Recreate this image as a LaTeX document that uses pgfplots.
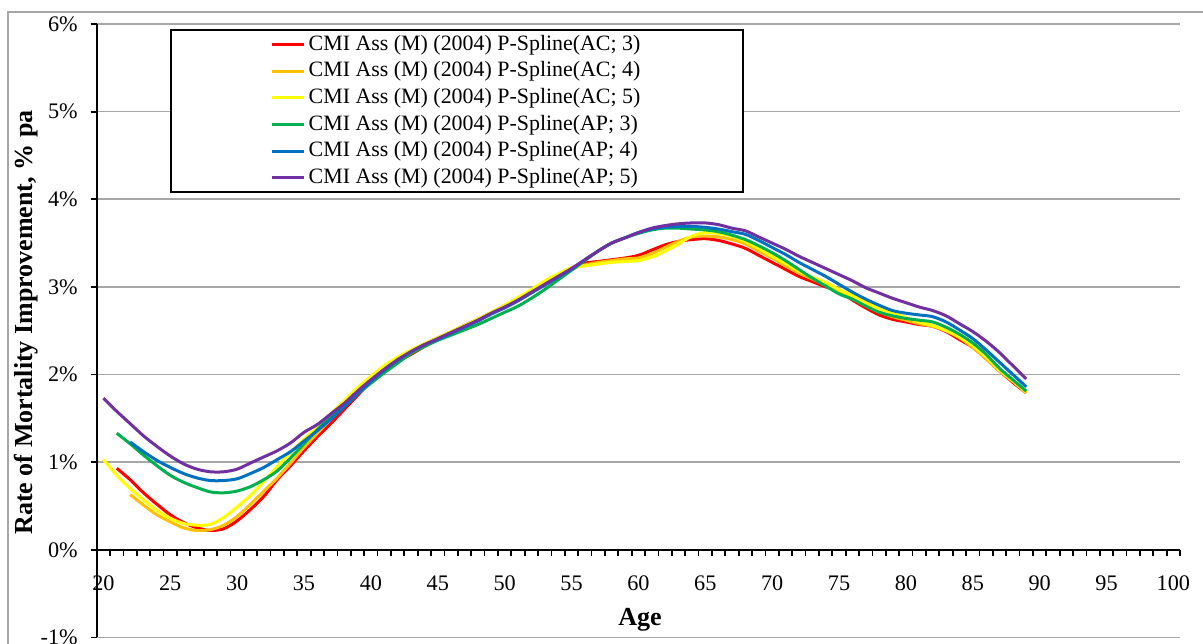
\documentclass[border=0pt]{standalone}
\usepackage{fontspec}
\setmainfont{Liberation Serif}
\usepackage{pgfplots}
\pgfplotsset{compat=1.18}
\definecolor{xlred}{RGB}{255,0,0}
\definecolor{xlorange}{RGB}{255,192,0}
\definecolor{xlyellow}{RGB}{255,255,0}
\definecolor{xlgreen}{RGB}{0,176,80}
\definecolor{xlblue}{RGB}{0,112,192}
\definecolor{xlpurple}{RGB}{112,48,160}
\definecolor{gridgrey}{RGB}{166,166,166}

\begin{document}
\begin{tikzpicture}[font=\fontsize{10pt}{12pt}\selectfont]
% picture is cut off at the bottom like the reference
\clip (-43.5pt,-2.57pt) rectangle (497.8pt,286.8pt);
\draw[gridgrey, line width=0.6pt] (-39.9pt,-20pt) -- (-39.9pt,281.4pt) -- (530pt,281.4pt);
\begin{axis}[
  scale only axis, width=487.5pt, height=276pt,
  xmin=19.5, xmax=100.5, ymin=-1, ymax=6,
  axis y line=left, axis x line=middle,
  axis line style={-, black, line width=1pt},
  every axis x label/.style={at={(0.5015,0.0282)}, anchor=center},
  every axis y label/.style={at={(-0.0653,0.5133)}, rotate=90, anchor=center},
  label style={font=\fontsize{11.7pt}{14pt}\selectfont\bfseries},
  xlabel={Age},
  ylabel={Rate of Mortality Improvement, \% pa},
  xtick={20,25,...,100},
  xticklabel={\pgfmathparse{int(round(\tick))}\pgfmathresult},
  xticklabel style={yshift=-5.4pt},
  major x tick style={draw=none},
  minor xtick={19.5,20.5,...,100.5},
  minor x tick style={black, line width=0.8pt},
  minor tick length=2.7pt,
  xtick align=outside,
  ytick={-1,0,...,6},
  yticklabel={\pgfmathparse{int(round(\tick))}\pgfmathresult\%},
  yticklabel style={xshift=-2.3pt},
  ytick align=outside, major tick length=2.7pt,
  y tick style={black, line width=0.8pt},
  ymajorgrids, grid style={gridgrey, line width=0.7pt},
  legend style={at={(0.0677,0.9918)}, anchor=north west, draw=black,
    line width=0.9pt, inner xsep=44.7pt, inner ysep=0.5pt, row sep=0pt,
    font=\fontsize{9.86pt}{12pt}\selectfont,
    nodes={text height=7.5pt, text depth=2.5pt, inner ysep=1pt, inner xsep=1.5pt}},
  legend cell align=left,
  legend image code/.code={\draw[#1, line width=1.35pt] (0pt,0pt) -- (14.4pt,0pt);},
  every axis plot/.append style={line width=1.35pt, smooth},
]
\addplot[xlred] coordinates {
(21,0.93) (22,0.80) (23,0.65) (24,0.52) (25,0.40) (26,0.31) (27,0.25) (28,0.22) (29,0.24) (30,0.33)
(31,0.46) (32,0.61) (33,0.80) (34,0.96) (35,1.13) (36,1.29) (37,1.44) (38,1.60) (39,1.76) (40,1.92)
(41,2.05) (42,2.15) (43,2.23) (44,2.32) (45,2.40) (46,2.48) (47,2.56) (48,2.63) (49,2.70) (50,2.78)
(51,2.86) (52,2.95) (53,3.04) (54,3.12) (55,3.20) (56,3.27) (57,3.29) (58,3.31) (59,3.33) (60,3.36)
(61,3.42) (62,3.48) (63,3.52) (64,3.54) (65,3.55) (66,3.53) (67,3.49) (68,3.44) (69,3.36) (70,3.28)
(71,3.20) (72,3.12) (73,3.06) (74,3.00) (75,2.95) (76,2.85) (77,2.76) (78,2.68) (79,2.63) (80,2.60)
(81,2.57) (82,2.55) (83,2.49) (84,2.40) (85,2.31) (86,2.18) (87,2.04) (88,1.91) (89,1.79)};
\addlegendentry{CMI Ass (M) (2004) P-Spline(AC; 3)}
\addplot[xlorange] coordinates {
(22,0.63) (23,0.51) (24,0.40) (25,0.32) (26,0.25) (27,0.22) (28,0.23) (29,0.28) (30,0.38)
(31,0.52) (32,0.67) (33,0.82) (34,0.99) (35,1.17) (36,1.33) (37,1.50) (38,1.66) (39,1.82) (40,1.96)
(41,2.08) (42,2.18) (43,2.27) (44,2.35) (45,2.42) (46,2.49) (47,2.56) (48,2.63) (49,2.71) (50,2.79)
(51,2.87) (52,2.96) (53,3.05) (54,3.14) (55,3.21) (56,3.25) (57,3.28) (58,3.30) (59,3.32) (60,3.33)
(61,3.38) (62,3.45) (63,3.52) (64,3.57) (65,3.58) (66,3.57) (67,3.54) (68,3.49) (69,3.41) (70,3.33)
(71,3.24) (72,3.16) (73,3.09) (74,3.03) (75,2.95) (76,2.87) (77,2.79) (78,2.72) (79,2.66) (80,2.62)
(81,2.58) (82,2.55) (83,2.50) (84,2.42) (85,2.31) (86,2.18) (87,2.04) (88,1.92) (89,1.79)};
\addlegendentry{CMI Ass (M) (2004) P-Spline(AC; 4)}
\addplot[xlyellow] coordinates {
(20,1.03) (21,0.85) (22,0.70) (23,0.57) (24,0.45) (25,0.36) (26,0.30) (27,0.28) (28,0.29) (29,0.37) (30,0.49)
(31,0.62) (32,0.78) (33,0.95) (34,1.11) (35,1.26) (36,1.40) (37,1.55) (38,1.70) (39,1.85) (40,1.98)
(41,2.10) (42,2.20) (43,2.28) (44,2.35) (45,2.42) (46,2.49) (47,2.56) (48,2.63) (49,2.71) (50,2.79)
(51,2.88) (52,2.97) (53,3.07) (54,3.15) (55,3.22) (56,3.24) (57,3.26) (58,3.28) (59,3.29) (60,3.30)
(61,3.34) (62,3.41) (63,3.49) (64,3.58) (65,3.62) (66,3.61) (67,3.58) (68,3.52) (69,3.44) (70,3.35)
(71,3.27) (72,3.18) (73,3.11) (74,3.05) (75,2.97) (76,2.90) (77,2.82) (78,2.75) (79,2.70) (80,2.65)
(81,2.60) (82,2.56) (83,2.50) (84,2.43) (85,2.33) (86,2.20) (87,2.05) (88,1.93) (89,1.80)};
\addlegendentry{CMI Ass (M) (2004) P-Spline(AC; 5)}
\addplot[xlgreen] coordinates {
(21,1.33) (22,1.21) (23,1.08) (24,0.96) (25,0.85) (26,0.77) (27,0.71) (28,0.66) (29,0.65) (30,0.67)
(31,0.72) (32,0.80) (33,0.90) (34,1.05) (35,1.21) (36,1.37) (37,1.52) (38,1.65) (39,1.78) (40,1.90)
(41,2.02) (42,2.13) (43,2.24) (44,2.32) (45,2.39) (46,2.45) (47,2.51) (48,2.57) (49,2.64) (50,2.71)
(51,2.78) (52,2.87) (53,2.97) (54,3.08) (55,3.19) (56,3.30) (57,3.41) (58,3.50) (59,3.56) (60,3.61)
(61,3.65) (62,3.67) (63,3.67) (64,3.66) (65,3.65) (66,3.63) (67,3.59) (68,3.54) (69,3.47) (70,3.39)
(71,3.30) (72,3.20) (73,3.10) (74,3.01) (75,2.92) (76,2.86) (77,2.78) (78,2.71) (79,2.67) (80,2.64)
(81,2.62) (82,2.60) (83,2.54) (84,2.46) (85,2.36) (86,2.23) (87,2.07) (88,1.94) (89,1.81)};
\addlegendentry{CMI Ass (M) (2004) P-Spline(AP; 3)}
\addplot[xlblue] coordinates {
(22,1.23) (23,1.12) (24,1.02) (25,0.94) (26,0.87) (27,0.82) (28,0.79) (29,0.79) (30,0.81)
(31,0.87) (32,0.94) (33,1.03) (34,1.12) (35,1.24) (36,1.36) (37,1.49) (38,1.63) (39,1.78) (40,1.92)
(41,2.05) (42,2.16) (43,2.26) (44,2.34) (45,2.40) (46,2.47) (47,2.54) (48,2.61) (49,2.69) (50,2.76)
(51,2.84) (52,2.93) (53,3.02) (54,3.11) (55,3.20) (56,3.31) (57,3.41) (58,3.50) (59,3.56) (60,3.62)
(61,3.66) (62,3.68) (63,3.69) (64,3.69) (65,3.68) (66,3.66) (67,3.63) (68,3.60) (69,3.53) (70,3.45)
(71,3.37) (72,3.28) (73,3.20) (74,3.12) (75,3.03) (76,2.94) (77,2.86) (78,2.79) (79,2.73) (80,2.70)
(81,2.68) (82,2.66) (83,2.60) (84,2.51) (85,2.41) (86,2.28) (87,2.14) (88,2.00) (89,1.86)};
\addlegendentry{CMI Ass (M) (2004) P-Spline(AP; 4)}
\addplot[xlpurple] coordinates {
(20,1.73) (21,1.58) (22,1.44) (23,1.30) (24,1.18) (25,1.07) (26,0.98) (27,0.92) (28,0.89) (29,0.89) (30,0.92)
(31,0.99) (32,1.06) (33,1.13) (34,1.22) (35,1.34) (36,1.43) (37,1.55) (38,1.67) (39,1.81) (40,1.94)
(41,2.06) (42,2.17) (43,2.26) (44,2.34) (45,2.41) (46,2.48) (47,2.55) (48,2.62) (49,2.70) (50,2.77)
(51,2.85) (52,2.94) (53,3.03) (54,3.12) (55,3.21) (56,3.31) (57,3.41) (58,3.50) (59,3.56) (60,3.62)
(61,3.67) (62,3.70) (63,3.72) (64,3.73) (65,3.73) (66,3.71) (67,3.67) (68,3.64) (69,3.57) (70,3.50)
(71,3.43) (72,3.35) (73,3.28) (74,3.21) (75,3.14) (76,3.07) (77,2.99) (78,2.93) (79,2.87) (80,2.82)
(81,2.77) (82,2.73) (83,2.67) (84,2.58) (85,2.49) (86,2.38) (87,2.25) (88,2.10) (89,1.95)};
\addlegendentry{CMI Ass (M) (2004) P-Spline(AP; 5)}
\end{axis}
\end{tikzpicture}
\end{document}
